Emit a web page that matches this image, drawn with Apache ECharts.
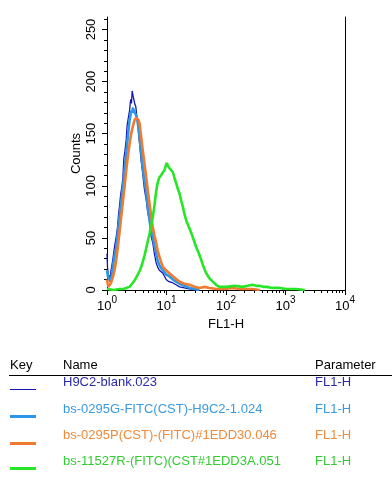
<!DOCTYPE html>
<html><head><meta charset="utf-8">
<script src="https://cdn.jsdelivr.net/npm/echarts@6/dist/echarts.min.js"></script>
<style>html,body{margin:0;padding:0;background:#fff}#c{width:392px;height:485px}</style>
</head><body><div id="c"></div>
<script>
// ---- data ----
const seriesNames = ['H9C2-blank.023', 'bs-0295G-FITC(CST)-H9C2-1.024', 'bs-0295P(CST)-(FITC)#1EDD30.046', 'bs-11527R-(FITC)(CST#1EDD3A.051'];
const parameterNames = ['FL1-H', 'FL1-H', 'FL1-H', 'FL1-H'];
const lineColors = ['#1414b0', '#2b97e6', '#f07a30', '#26e626'];
const textColors = ['#2a2aaa', '#3a9ae0', '#ee8a3a', '#33cc33'];
const yTickValues = [0, 50, 100, 150, 200, 250];
const yMinorTickValues = [10, 20, 30, 40, 60, 70, 80, 90, 110, 120, 130, 140, 160, 170, 180, 190, 210, 220, 230, 240, 260];
const xTickValues = [1, 10, 100, 1000, 10000];

const blankData = [[1.00,35],[1.02,22],[1.04,16],[1.07,11],[1.10,14],[1.13,12],[1.17,19],[1.21,24],[1.25,29],[1.30,36],[1.36,44],[1.43,51],[1.50,60],[1.56,72],[1.62,80],[1.70,92],[1.78,99],[1.85,108],[1.92,126],[2.00,133],[2.10,144],[2.18,158],[2.28,165],[2.39,172],[2.50,183],[2.58,179],[2.65,191],[2.75,186],[2.85,186],[2.95,178],[3.05,176],[3.15,168],[3.30,160],[3.42,148],[3.52,141],[3.75,124],[3.98,112],[4.25,97],[4.57,86],[4.85,74],[5.18,67],[5.50,52],[5.89,45],[6.30,34],[6.71,26],[7.10,22],[7.59,19],[8.10,18],[8.71,16],[9.30,13],[9.89,10],[11.0,8],[12.6,7],[14.5,5],[16.6,3],[20.0,2],[24.0,1],[27.5,0.5],[35.0,0]];
const g0295Data = [[1.00,19],[1.03,14],[1.07,11],[1.10,10],[1.14,8],[1.17,9],[1.21,15],[1.25,22],[1.33,32],[1.43,41],[1.52,55],[1.62,70],[1.73,84],[1.85,99],[1.97,115],[2.10,131],[2.24,147],[2.39,163],[2.47,167],[2.55,172],[2.64,170],[2.72,175],[2.86,171],[3.01,169],[3.15,166],[3.30,160],[3.52,147],[3.75,132],[3.98,118],[4.27,105],[4.57,93],[4.87,79],[5.18,67],[5.50,58],[5.89,51],[6.30,42],[6.71,35],[7.10,28],[7.59,24],[8.10,21],[8.71,19],[9.8,15],[11.2,13],[13.5,9],[16.6,6],[20,4],[24.5,2],[30,1],[35.7,0]];
const p0295Data = [[1.00,10],[1.03,6],[1.06,3],[1.10,4],[1.17,7],[1.25,12],[1.34,19],[1.43,29],[1.52,41],[1.62,55],[1.73,70],[1.85,85],[1.97,99],[2.10,114],[2.24,128],[2.39,140],[2.55,150],[2.72,157],[2.90,163],[3.09,165],[3.30,166],[3.40,163],[3.52,160],[3.75,147],[3.99,134],[4.27,121],[4.56,108],[4.86,95],[5.18,83],[5.52,71],[5.89,60],[6.30,52],[6.71,45],[7.10,38],[7.59,32],[8.10,27],[8.71,22],[9.8,19],[11.2,16],[13.5,12],[16.6,8],[20,6],[24.5,5],[30,3],[35.7,2],[44,3],[52.7,2],[70,1],[94,1],[130,2],[170,1],[220,1],[280,1],[370,0]];
const r11527Data = [[1.00,1],[1.30,0],[1.62,1],[1.90,1],[2.10,2],[2.39,3],[2.55,5],[2.72,7],[2.90,9],[3.09,12],[3.30,15],[3.52,18],[3.75,22],[3.99,27],[4.27,33],[4.56,40],[4.86,47],[5.18,54],[5.52,62],[5.89,70],[6.30,82],[6.71,95],[7.10,103],[7.59,108],[8.10,110],[8.71,113],[9.25,115],[9.7,119],[10.1,122],[10.6,119],[11.2,117],[12.0,116],[12.8,113],[13.7,107],[14.6,102],[15.5,97],[16.5,93],[17.6,86],[18.8,80],[20.0,73],[21.4,67],[23.6,61],[26,55],[28.7,48],[31.6,41],[35,35],[38.3,29],[42,22],[46.5,16],[53,11],[60,8],[68,5],[77.7,3],[90,3],[100,3],[140,4],[190,3],[230,4],[280,5],[320,4],[365,4],[420,3],[480,3],[605,2],[800,2],[1040,1],[1520,1],[2100,0]];
const seriesData = [blankData, g0295Data, p0295Data, r11527Data];
const lineWidths = [1.3, 2.6, 2.6, 2.6];

// ---- chart ----
const FONT = '"Liberation Sans", Arial, Helvetica, sans-serif';
const chart = echarts.init(document.getElementById('c'), null, {renderer: 'canvas'});
const black = '#000';

const legendGraphics = [];
legendGraphics.push({type: 'text', x: 10, y: 365, style: {text: 'Key', font: '13px ' + FONT, fill: black, verticalAlign: 'middle'}});
legendGraphics.push({type: 'text', x: 63, y: 365, style: {text: 'Name', font: '13px ' + FONT, fill: black, verticalAlign: 'middle'}});
legendGraphics.push({type: 'text', x: 315, y: 365, style: {text: 'Parameter', font: '13px ' + FONT, fill: black, verticalAlign: 'middle'}});
legendGraphics.push({type: 'line', shape: {x1: 9, y1: 375.5, x2: 392, y2: 375.5}, style: {stroke: black, lineWidth: 1}});
const rowTextY = [382.5, 409, 435.5, 461];
const rowLineY = [389.5, 416.5, 443.5, 468.5];
seriesNames.forEach((n, i) => {
  legendGraphics.push({type: 'line', shape: {x1: 10, y1: rowLineY[i], x2: 36, y2: rowLineY[i]}, style: {stroke: lineColors[i], lineWidth: i === 0 ? 1 : 3}});
  legendGraphics.push({type: 'text', x: 63, y: rowTextY[i], style: {text: n, font: '13px ' + FONT, fill: textColors[i], verticalAlign: 'middle'}});
  legendGraphics.push({type: 'text', x: 315, y: rowTextY[i], style: {text: parameterNames[i], font: '13px ' + FONT, fill: textColors[i], verticalAlign: 'middle'}});
});

const option = {
  animation: false,
  backgroundColor: '#fff',
  textStyle: {fontFamily: FONT},
  grid: {left: 107, right: 47, top: 17, bottom: 195, containLabel: false},
  xAxis: [{
    type: 'log', logBase: 10, min: 1, max: 10000, position: 'bottom',
    name: 'FL1-H', nameLocation: 'middle', nameGap: 24,
    nameTextStyle: {fontSize: 13, color: black, fontFamily: FONT},
    axisLine: {show: true, lineStyle: {color: black, width: 1}},
    axisTick: {show: true, length: 5, lineStyle: {color: black}},
    minorTick: {show: true, splitNumber: 9, length: 3, lineStyle: {color: black}},
    splitLine: {show: false}, minorSplitLine: {show: false},
    axisLabel: {
      margin: 5, color: black,
      formatter: v => '{h|\u200b}{b|10}{s|' + Math.round(Math.log10(v)) + '}',
      rich: {
        h: {fontSize: 1, lineHeight: 18, width: 0},
        b: {fontSize: 13, lineHeight: 13, verticalAlign: 'bottom', fontFamily: FONT, color: black},
        s: {fontSize: 10, lineHeight: 10, verticalAlign: 'top', fontFamily: FONT, color: black}
      }
    }
  }],
  yAxis: [{
    type: 'value', min: 0, max: 262, interval: 50, position: 'left',
    name: 'Counts', nameLocation: 'middle', nameGap: 24, nameMoveOverlap: false,
    nameTextStyle: {fontSize: 13, color: black, fontFamily: FONT},
    axisLine: {show: true, lineStyle: {color: black, width: 1}},
    axisTick: {show: true, length: 5, customValues: yTickValues, lineStyle: {color: black}},
    axisLabel: {customValues: yTickValues, rotate: 90, margin: 9, fontSize: 13, color: black, fontFamily: FONT,
      formatter: v => (v % 50 === 0 ? String(v) : '')},
    splitLine: {show: false}
  }, {
    type: 'value', min: 0, max: 262, position: 'left',
    axisLine: {show: false},
    axisTick: {show: true, length: 3, customValues: yMinorTickValues, lineStyle: {color: black}},
    axisLabel: {show: false},
    splitLine: {show: false}
  }, {
    type: 'value', min: 0, max: 262, position: 'right',
    axisLine: {show: true, lineStyle: {color: black, width: 1}},
    axisTick: {show: false}, axisLabel: {show: false}, splitLine: {show: false}
  }],
  graphic: legendGraphics,
  series: seriesData.map((d, i) => ({
    name: seriesNames[i], type: 'line', data: d, xAxisIndex: 0, yAxisIndex: 0,
    showSymbol: false, symbol: 'none', smooth: false,
    lineStyle: {color: lineColors[i], width: lineWidths[i]},
    itemStyle: {color: lineColors[i]}, z: 2 + i
  }))
};
chart.setOption(option);
</script>
</body></html>
